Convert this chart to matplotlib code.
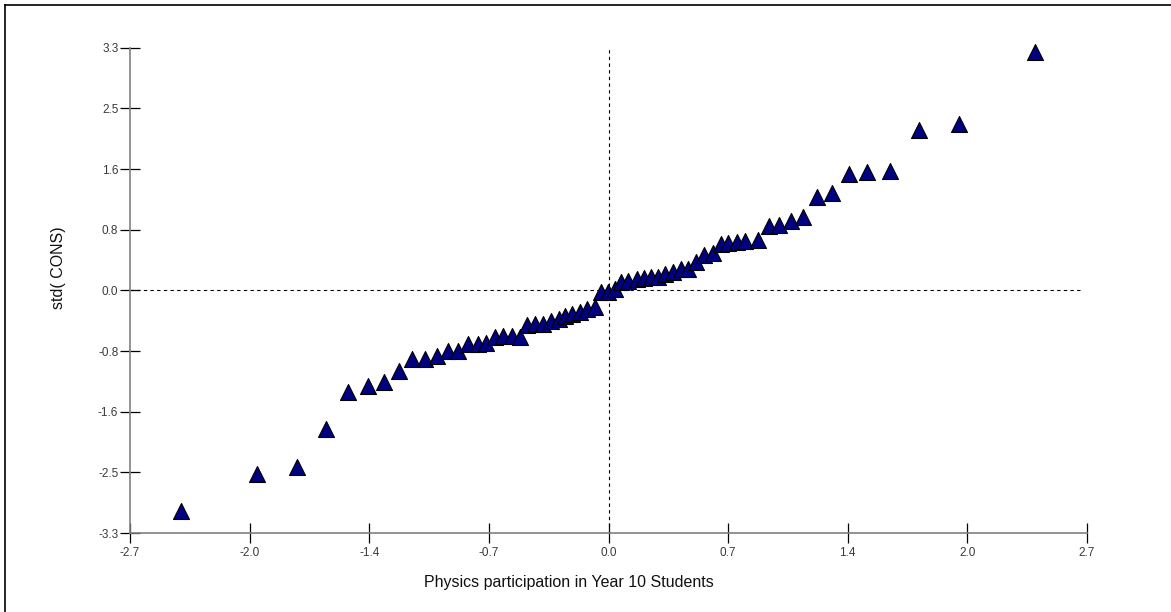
import matplotlib
matplotlib.use("Agg")
import matplotlib.pyplot as plt
from matplotlib.lines import Line2D

# Data
x_vals = [-2.414, -1.982, -1.756, -1.596, -1.468, -1.359, -1.267, -1.184, -1.107, -1.034,
          -0.969, -0.907, -0.848, -0.793, -0.739, -0.691, -0.640, -0.594, -0.546, -0.499,
          -0.460, -0.413, -0.368, -0.326, -0.282, -0.245, -0.208, -0.161, -0.121, -0.076,
          -0.045, -0.003, 0.037, 0.071, 0.112, 0.159, 0.200, 0.237, 0.279, 0.319,
          0.362, 0.407, 0.450, 0.495, 0.539, 0.588, 0.633, 0.676, 0.723, 0.770,
          0.845, 0.906, 0.964, 1.030, 1.099, 1.175, 1.259, 1.357, 1.460, 1.588,
          1.752, 1.978, 2.407]
y_vals = [-3.005, -2.504, -2.400, -1.888, -1.389, -1.298, -1.253, -1.100, -0.940, -0.934,
          -0.893, -0.825, -0.825, -0.736, -0.723, -0.720, -0.639, -0.621, -0.621, -0.630,
          -0.475, -0.460, -0.459, -0.414, -0.394, -0.348, -0.324, -0.301, -0.254, -0.233,
          -0.029, -0.022, 0.018, 0.114, 0.130, 0.148, 0.168, 0.179, 0.188, 0.224,
          0.255, 0.284, 0.288, 0.388, 0.481, 0.508, 0.624, 0.647, 0.658, 0.674,
          0.689, 0.878, 0.886, 0.939, 1.002, 1.267, 1.320, 1.576, 1.614, 1.620,
          2.174, 2.265, 3.235]
x_ticks = [-2.7, -2.025, -1.35, -0.675, 0.0, 0.675, 1.35, 2.025, 2.7]
x_tick_labels = ["-2.7", "-2.0", "-1.4", "-0.7", "0.0", "0.7", "1.4", "2.0", "2.7"]
y_ticks = [-3.3, -2.475, -1.65, -0.825, 0.0, 0.825, 1.65, 2.475, 3.3]
y_tick_labels = ["-3.3", "-2.5", "-1.6", "-0.8", "0.0", "0.8", "1.6", "2.5", "3.3"]
x_label = "Physics participation in Year 10 Students"
y_label = "std( CONS)"

plt.rcParams['font.family'] = ['Liberation Sans', 'DejaVu Sans']

W, H = 1171, 612
fig = plt.figure(figsize=(W / 100, H / 100), dpi=100)
ax = fig.add_axes([130 / W, 1 - 533 / H, (1087 - 130) / W, (533 - 47.7) / H])

ax.set_xlim(-2.7, 2.7)
ax.set_ylim(-3.3, 3.3)

# reference lines
ax.axhline(0, xmin=0, xmax=(1083 - 130) / (1087 - 130), color='black', lw=0.8,
           ls=(0, (3, 3)), zorder=1)
ax.axvline(0, color='black', lw=0.8, ls=(0, (3, 3)), zorder=1)

ax.scatter(x_vals, y_vals, marker='^', s=11.5 ** 2, facecolor='#000080',
           edgecolor='black', linewidths=0.8, zorder=3, clip_on=False)

for s in ['top', 'right']:
    ax.spines[s].set_visible(False)
for s in ['left', 'bottom']:
    ax.spines[s].set_color('#808080')
    ax.spines[s].set_linewidth(1.2)

ax.set_xticks(x_ticks)
ax.set_xticklabels(x_tick_labels)
ax.set_yticks(y_ticks)
ax.set_yticklabels(y_tick_labels)
ax.tick_params(axis='both', direction='inout', length=14.4, width=0.9, color='black',
               labelsize=8.5, labelcolor='#3a3a3a')
ax.tick_params(axis='x', pad=3.2)
ax.tick_params(axis='y', pad=1.2)

fig.text(569 / W, 1 - 583 / H, x_label, ha='center', va='center', fontsize=11.5,
         color='#111111')
fig.text(58 / W, 1 - 268 / H, y_label, ha='center', va='center', fontsize=11.5,
         rotation=90, color='#111111')

# outer frame (top and left edges visible)
fig.add_artist(Line2D([5 / W, 1], [1 - 5 / H, 1 - 5 / H], transform=fig.transFigure,
                      color='black', lw=1.2))
fig.add_artist(Line2D([5 / W, 5 / W], [0, 1 - 5 / H], transform=fig.transFigure,
                      color='black', lw=1.2))

fig.savefig("out.png", dpi=100)
